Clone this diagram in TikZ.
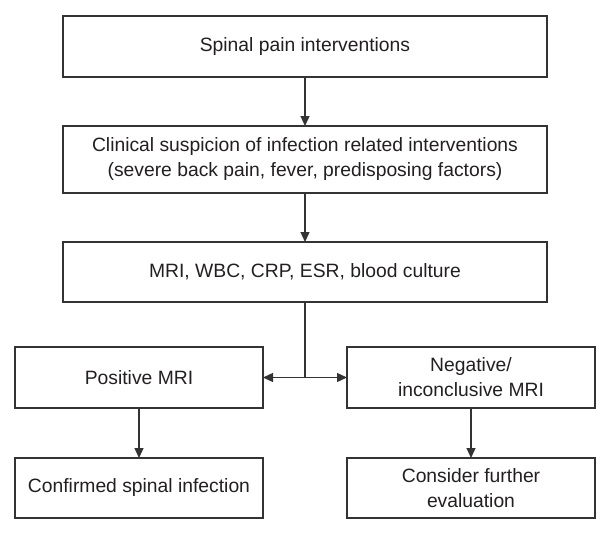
\documentclass[tikz,border=0pt]{standalone}
\usepackage{fontspec}
\setmainfont{Liberation Sans}
\usetikzlibrary{arrows.meta}
\definecolor{linecol}{HTML}{333333}
\definecolor{textcol}{HTML}{231F20}
\begin{document}
\begin{tikzpicture}[x=1pt,y=-1pt,
  box/.style={draw=linecol,line width=1.3pt,inner sep=0pt,outer sep=0pt,
    align=center,text=textcol,font=\fontsize{19.3}{25}\selectfont},
  wide/.style={box,minimum width=484pt},
  narrow/.style={box,minimum width=248pt},
  conn/.style={draw=linecol,line width=1.3pt,-{Triangle[length=10pt,width=9pt]}}]
\useasboundingbox (0,0) rectangle (615,535);
\node[wide,minimum height=61pt] (b1) at (305,46.5) {Spinal pain interventions};
\node[wide,minimum height=67pt] (b2) at (305,159.5) {Clinical suspicion of infection related interventions\\(severe back pain, fever, predisposing factors)};
\node[wide,minimum height=60pt] (b3) at (305,272) {MRI, WBC, CRP, ESR, blood culture};
\node[narrow,minimum height=61pt] (b4) at (139,377.5) {Positive MRI};
\node[narrow,minimum height=61pt] (b5) at (471,377.5) {Negative/\\inconclusive MRI};
\node[narrow,minimum height=60pt] (b6) at (139,488) {Confirmed spinal infection};
\node[narrow,minimum height=60pt] (b7) at (471,488) {Consider further\\evaluation};
\coordinate (j) at (305,377.5);
\draw[conn] (b1) -- (b2);
\draw[conn] (b2) -- (b3);
\draw[draw=linecol,line width=1.3pt] (b3.south) -- (j);
\draw[conn] (j) -- (b4.east);
\draw[conn] (j) -- (b5.west);
\draw[conn] (b4) -- (b6);
\draw[conn] (b5) -- (b7);
\end{tikzpicture}
\end{document}
